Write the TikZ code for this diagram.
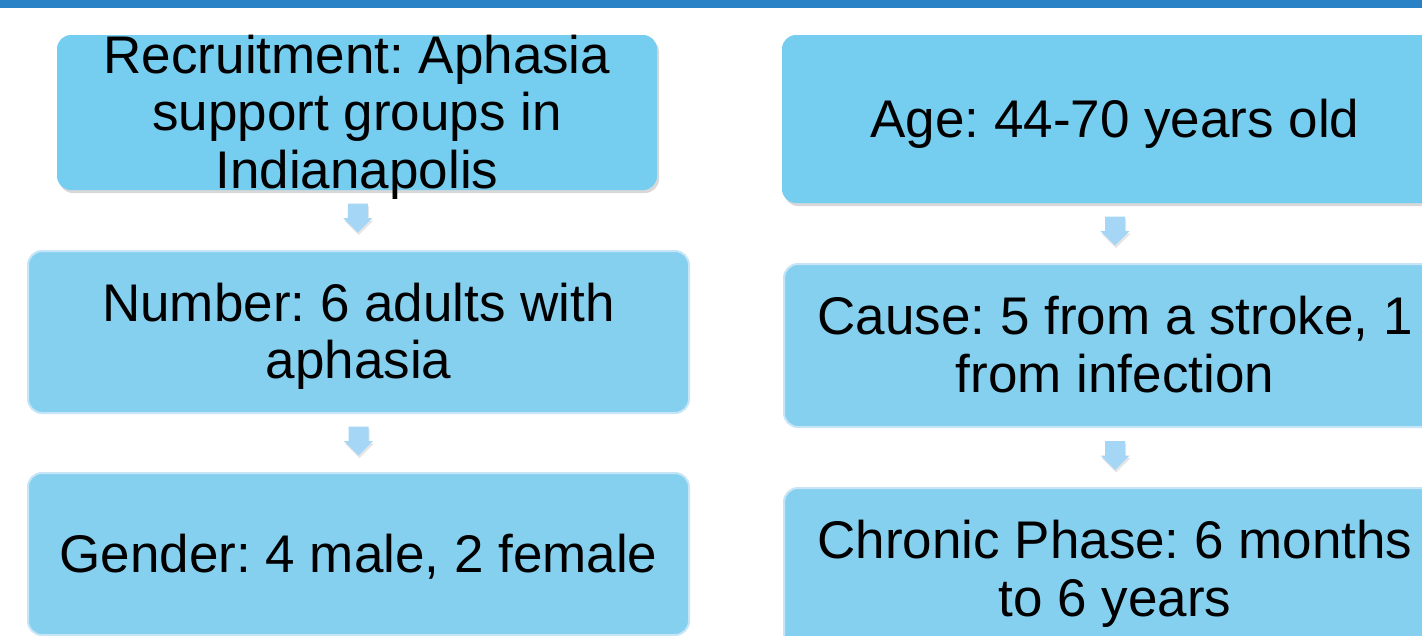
\documentclass[tikz,border=0pt]{standalone}
\usepackage{fontspec}
\setmainfont{Liberation Sans}
\frenchspacing
\usetikzlibrary{calc,shadows}
\definecolor{barblue}{HTML}{2A82C6}
\definecolor{boxA}{HTML}{75CDEF}
\definecolor{boxB}{HTML}{86D0EF}
\definecolor{boxEdge}{HTML}{C6E5F6}
\definecolor{arrowfill}{HTML}{A6D6F6}
\tikzset{
  shadowbox/.style={rectangle, rounded corners=14pt, fill=boxA, draw=none,
    drop shadow={shadow xshift=2pt, shadow yshift=-3pt, opacity=0.3}},
  edgebox/.style={rectangle, rounded corners=14pt, fill=boxB, draw=boxEdge, line width=2pt},
  boxtext/.style={align=center, inner sep=0pt, yshift=-6.5pt,
    font=\fontsize{53}{57.5}\selectfont\frenchspacing},
  blockarrow/.style={fill=arrowfill, draw=none,
    drop shadow={shadow xshift=1pt, shadow yshift=-2.5pt, opacity=0.2}},
}
\newcommand{\dnarrow}[2]{%
  \path[blockarrow] ($(#1.south)!0.5!(#2.north)+(0,-2)$) ++(-10,-14.5) -- ++(20,0) -- ++(0,14.5)
    -- ++(4.5,0) -- ++(-14.5,14.5) -- ++(-14.5,-14.5) -- ++(4.5,0) -- cycle;}
\begin{document}
\begin{tikzpicture}[x=1pt,y=-1pt]
\useasboundingbox (0,0) rectangle (1422,635);
\clip (0,0) rectangle (1422,635);
\fill[white] (0,0) rectangle (1422,635);
\fill[barblue] (0,0) rectangle (1422,8);

% left column
\node[shadowbox, minimum width=600pt, minimum height=155pt] (b1) at (357,112.5) {};
\node[edgebox, minimum width=661pt, minimum height=162pt] (b2) at (358.5,332) {};
\node[edgebox, minimum width=661pt, minimum height=162pt] (b3) at (358.5,554) {};
% right column
\node[shadowbox, minimum width=666pt, minimum height=168pt] (b4) at (1115,119) {};
\node[edgebox, minimum width=662pt, minimum height=163pt] (b5) at (1115,345.5) {};
\node[edgebox, minimum width=662pt, minimum height=163pt] (b6) at (1115,569.5) {};

\node[boxtext] (t1) at (b1.center) {\strut Recruitment: Aphasia\\\strut support groups in\\\strut Indianapolis};
\node[boxtext] (t2) at (b2.center) {\strut Number: 6 adults with\\\strut aphasia};
\node[boxtext] (t3) at (b3.center) {\strut Gender: 4 male, 2 female};
\node[boxtext] (t4) at (b4.center) {\strut Age: 44-70 years old};
\node[boxtext] (t5) at (b5.center) {\strut Cause: 5 from a stroke, 1\\\strut from infection};
\node[boxtext] (t6) at (b6.center) {\strut Chronic Phase: 6 months\\\strut to 6 years};

\dnarrow{b1}{b2}
\dnarrow{b2}{b3}
\dnarrow{b4}{b5}
\dnarrow{b5}{b6}
\end{tikzpicture}
\end{document}
